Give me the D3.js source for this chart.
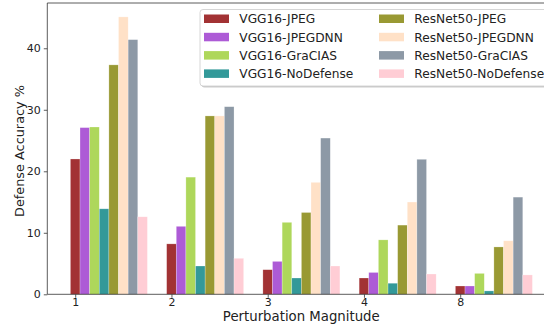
<!DOCTYPE html>
<html>
<head>
<meta charset="utf-8">
<script src="https://cdn.jsdelivr.net/npm/d3@7"></script>
<style>
  body { margin: 0; background: #fff; }
  svg { font-family: "DejaVu Sans", sans-serif; display: block; }
</style>
</head>
<body>
<div id="chart"></div>
<script>
// data
const groups = ["1", "2", "3", "4", "8"];
const seriesNames = ["VGG16-JPEG", "VGG16-JPEGDNN", "VGG16-GraCIAS", "VGG16-NoDefense",
  "ResNet50-JPEG", "ResNet50-JPEGDNN", "ResNet50-GraCIAS", "ResNet50-NoDefense"];
const seriesColors = ["#a23234", "#ad5bd6", "#aed75b", "#339999",
  "#999933", "#ffe1c7", "#8d99a6", "#ffcdd5"];
const vgg16Jpeg = [22.0, 8.2, 4.0, 2.65, 1.35];
const vgg16JpegDnn = [27.1, 11.05, 5.35, 3.55, 1.35];
const vgg16Gracias = [27.2, 19.05, 11.7, 8.85, 3.4];
const vgg16NoDef = [13.9, 4.6, 2.65, 1.8, 0.55];
const resnetJpeg = [37.3, 29.0, 13.3, 11.25, 7.7];
const resnetJpegDnn = [45.1, 29.0, 18.2, 15.0, 8.7];
const resnetGracias = [41.4, 30.5, 25.4, 21.95, 15.8];
const resnetNoDef = [12.6, 5.85, 4.6, 3.3, 3.15];
const yTicks = [0, 10, 20, 30, 40];

const series = [vgg16Jpeg, vgg16JpegDnn, vgg16Gracias, vgg16NoDef,
  resnetJpeg, resnetJpegDnn, resnetGracias, resnetNoDef];

const W = 544, H = 326;
const plotL = 47.3, plotT = 3, plotB = 294.3, plotR = 555.5;
const barW = 0.1;

let svg = d3.select("#chart").append("svg")
  .attr("width", W).attr("height", H);

// scale a text's font size so it spans the given width
function fitSize(sel, text, width) {
  let t = svg.append("text").attr("font-size", "10px").text(text);
  let w = t.node().getComputedTextLength();
  t.remove();
  return (10 * width / w).toFixed(2) + "px";
}

let x = d3.scaleLinear().domain([-0.29, 4.99]).range([plotL, plotR]);
let y = d3.scaleLinear().domain([0, 47.36]).range([plotB, plotT]);

// flatten for drawing
let bars = [];
series.forEach(function (vals, k) {
  vals.forEach(function (v, i) {
    bars.push({ k: k, i: i, v: v });
  });
});

svg.append("g").selectAll("rect")
  .data(bars)
  .enter().append("rect")
  .attr("x", d => x(d.i + d.k * barW - barW / 2))
  .attr("width", d => x(d.i + d.k * barW + barW / 2) - x(d.i + d.k * barW - barW / 2))
  .attr("y", d => y(d.v))
  .attr("height", d => y(0) - y(d.v))
  .attr("fill", d => seriesColors[d.k])
  .attr("stroke", "#fff")
  .attr("stroke-opacity", 0.4)
  .attr("stroke-width", 0.6);

let tickSize = fitSize(svg, "40", 14);

// axes
let xAxis = svg.append("g")
  .attr("transform", "translate(0," + plotB + ")")
  .call(d3.axisBottom(x).tickValues(d3.range(groups.length))
    .tickFormat(i => groups[i]).tickSize(3.5).tickPadding(0.8).tickSizeOuter(0));
xAxis.select(".domain").remove();

let yAxis = svg.append("g")
  .attr("transform", "translate(" + plotL + ",0)")
  .call(d3.axisLeft(y).tickValues(yTicks).tickSize(3.5).tickPadding(3).tickSizeOuter(0));
yAxis.select(".domain").remove();

[xAxis, yAxis].forEach(function (a) {
  a.selectAll("text").attr("font-size", tickSize).attr("fill", "#222")
    .attr("font-family", "'DejaVu Sans', sans-serif");
  a.selectAll("line").attr("stroke", "#333").attr("stroke-width", 0.8);
});

// spines
svg.append("line").attr("x1", plotL).attr("x2", plotL).attr("y1", plotT).attr("y2", plotB)
  .attr("stroke", "#333").attr("stroke-width", 0.8);
svg.append("line").attr("x1", plotL).attr("x2", plotR).attr("y1", plotB).attr("y2", plotB)
  .attr("stroke", "#333").attr("stroke-width", 0.8);
svg.append("line").attr("x1", plotL).attr("x2", plotR).attr("y1", plotT).attr("y2", plotT)
  .attr("stroke", "#333").attr("stroke-width", 0.8);

// axis labels
svg.append("text")
  .attr("x", 301.3).attr("y", 321.3)
  .attr("text-anchor", "middle")
  .attr("font-size", fitSize(svg, "Perturbation Magnitude", 157)).attr("fill", "#222")
  .text("Perturbation Magnitude");

svg.append("text")
  .attr("transform", "translate(24,151) rotate(-90)")
  .attr("text-anchor", "middle")
  .attr("font-size", fitSize(svg, "Defense Accuracy %", 132)).attr("fill", "#222")
  .text("Defense Accuracy %");

// legend
let lg = svg.append("g").attr("transform", "translate(200,9.5)");
lg.append("rect")
  .attr("x", 1.5).attr("y", 1.5).attr("width", 352).attr("height", 76.5)
  .attr("rx", 3)
  .attr("fill", "#999").attr("fill-opacity", 0.5);
lg.append("rect")
  .attr("x", 0).attr("y", 0).attr("width", 352).attr("height", 76.5)
  .attr("rx", 3)
  .attr("fill", "#fff")
  .attr("stroke", "#ccc").attr("stroke-width", 0.8);

let legendSize = fitSize(svg, "VGG16-NoDefense", 114);
let items = lg.selectAll("g.item")
  .data(seriesNames)
  .enter().append("g").attr("class", "item")
  .attr("transform", (d, i) => "translate(" + (i < 4 ? 4 : 179) + "," + (5 + (i % 4) * 18.3) + ")");
items.append("rect")
  .attr("width", 25).attr("height", 8.5)
  .attr("fill", (d, i) => seriesColors[i]);
items.append("text")
  .attr("x", 35.3).attr("y", 8.7)
  .attr("font-size", legendSize).attr("fill", "#222")
  .text(d => d);
</script>
</body>
</html>
